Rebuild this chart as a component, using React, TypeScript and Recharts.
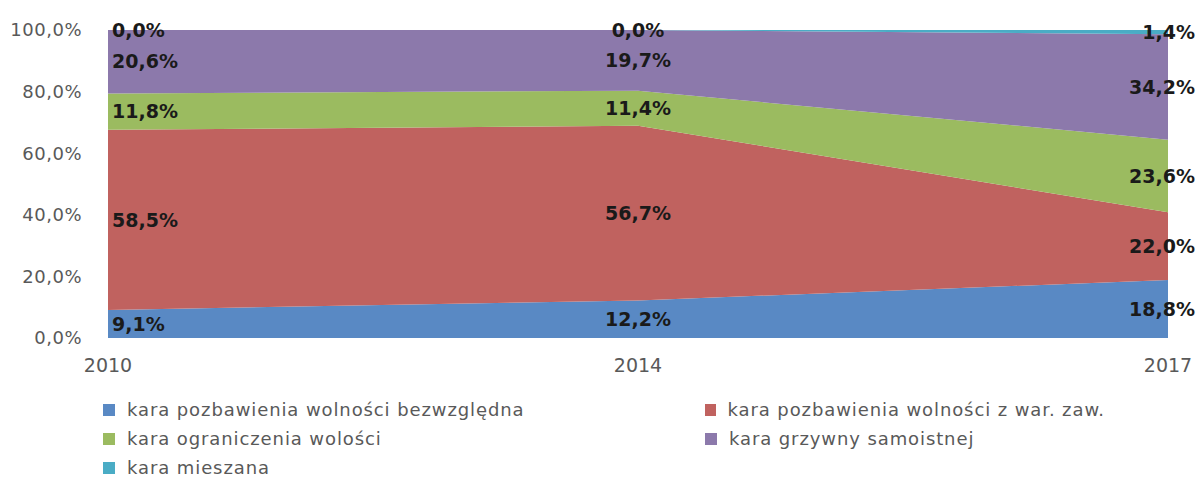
import { Area, AreaChart, ReferenceDot, XAxis, YAxis } from 'recharts';

const years = ['2010', '2014', '2017'];
const bezwzgledna = [9.1, 12.2, 18.8];
const warZaw = [58.5, 56.7, 22.0];
const ograniczenia = [11.8, 11.4, 23.6];
const grzywny = [20.6, 19.7, 34.2];
const mieszana = [0, 0, 1.4];
const yTicks = [0, 20, 40, 60, 80, 100];

const series = [
  { key: 'bezwzgledna', name: 'kara pozbawienia wolności bezwzględna', values: bezwzgledna, color: '#5989C4' },
  { key: 'warZaw', name: 'kara pozbawienia wolności z war. zaw.', values: warZaw, color: '#C0625F' },
  { key: 'ograniczenia', name: 'kara ograniczenia wolości', values: ograniczenia, color: '#9BBB60' },
  { key: 'grzywny', name: 'kara grzywny samoistnej', values: grzywny, color: '#8C79AB' },
  { key: 'mieszana', name: 'kara mieszana', values: mieszana, color: '#4AACC5' },
];

const data = years.map((year, i) => ({
  year,
  ...Object.fromEntries(series.map((s) => [s.key, s.values[i]])),
}));

const pct = (v: number) => `${v.toFixed(1).replace('.', ',')}%`;

// one label per band, sitting in the middle of it
const labels = years.flatMap((year, i) => {
  let base = 0;
  return series.map((s) => {
    const v = s.values[i];
    const mid = base + v / 2;
    base += v;
    return { year, i, mid, text: pct(v) };
  });
});

const FONT = '"DejaVu Sans", sans-serif';
const anchors = ['start', 'middle', 'end'] as const;
const shifts = [4, 0, 27];

const valueLabel = (text: string, i: number) => (props: any) => {
  const vb = props.viewBox || {};
  return (
    <text
      x={(vb.x ?? 0) + shifts[i]}
      y={vb.y ?? 0}
      dy="0.35em"
      textAnchor={anchors[i]}
      fontFamily={FONT}
      fontWeight="bold"
      fontSize={19}
      fill="#1a1a1a"
    >
      {text}
    </text>
  );
};

export default function App() {
  return (
    <div style={{ position: 'absolute', left: 0, top: 0, width: 1203, height: 478, background: '#fff' }}>
      <AreaChart width={1203} height={478} data={data} margin={{ top: 30, right: 35, left: 0, bottom: 100 }}>
        <XAxis
          dataKey="year"
          axisLine={false}
          tickLine={false}
          tickSize={0}
          tickMargin={21}
          height={40}
          interval={0}
          tick={{ fill: '#595959', fontSize: 19, fontFamily: FONT }}
        />
        <YAxis
          domain={[0, 100]}
          ticks={yTicks}
          width={108}
          axisLine={false}
          tickLine={false}
          tickSize={0}
          tickMargin={26}
          tickFormatter={(v: number) => `${v},0%`}
          tick={{ fill: '#595959', fontSize: 18, fontFamily: FONT, letterSpacing: 0.5 }}
        />
        {series.map((s) => (
          <Area
            key={s.key}
            type="linear"
            dataKey={s.key}
            name={s.name}
            stackId="1"
            stroke="none"
            fill={s.color}
            fillOpacity={1}
            dot={false}
            activeDot={false}
            isAnimationActive={false}
          />
        ))}
        {labels.map((l, k) => (
          <ReferenceDot
            key={k}
            x={l.year}
            y={l.mid}
            r={0}
            fill="none"
            stroke="none"
            ifOverflow="visible"
            label={valueLabel(l.text, l.i)}
          />
        ))}
      </AreaChart>
      <div
        style={{
          position: 'absolute',
          left: 103,
          top: 399,
          width: 1000,
          display: 'grid',
          gridTemplateColumns: '602px 400px',
          rowGap: 7,
          fontFamily: FONT,
          fontSize: 18,
          letterSpacing: 0.9,
          color: '#595959',
          lineHeight: '22px',
        }}
      >
        {series.map((s) => (
          <div key={s.key} style={{ display: 'flex', alignItems: 'center', whiteSpace: 'nowrap' }}>
            <span style={{ display: 'inline-block', width: 12, height: 12, background: s.color, marginRight: 12 }} />
            {s.name}
          </div>
        ))}
      </div>
    </div>
  );
}
